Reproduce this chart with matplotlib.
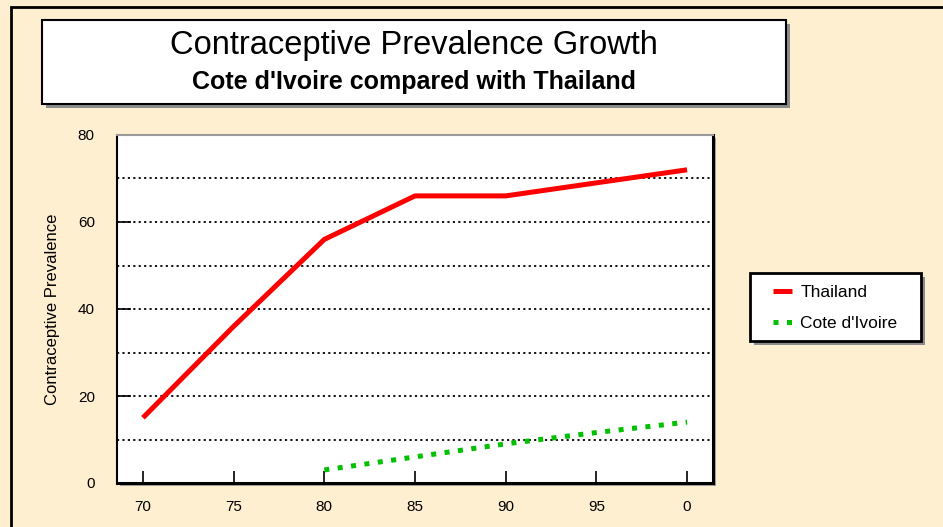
import matplotlib.pyplot as plt
from matplotlib.patches import Rectangle

years = [70, 75, 80, 85, 90, 95, 100]
thailand = [15, 36, 56, 66, 66, 69, 72]

ci_years = [80, 85, 90, 95, 100]
cote_divoire = [3, 6, 9, 11.6, 14]

xtick_pos = [70, 75, 80, 85, 90, 95, 100]
xtick_labels = ["70", "75", "80", "85", "90", "95", "0"]

W, H = 943, 527
bg = "#FFEFD1"

plt.rcParams["font.family"] = ["Liberation Sans", "DejaVu Sans"]

fig = plt.figure(figsize=(W / 100, H / 100), dpi=100)
fig.patch.set_facecolor(bg)


def box(x0, y0, x1, y1, lw=1.5, shadow=4):
    # pixel coords from top-left -> figure fraction
    fig.patches.append(Rectangle(((x0 + shadow) / W, 1 - (y1 + shadow) / H),
                                 (x1 - x0) / W, (y1 - y0) / H,
                                 transform=fig.transFigure, facecolor="#8c8c8c",
                                 edgecolor="none", zorder=1))
    fig.patches.append(Rectangle((x0 / W, 1 - y1 / H), (x1 - x0) / W, (y1 - y0) / H,
                                 transform=fig.transFigure, facecolor="white",
                                 edgecolor="black", linewidth=lw, zorder=1.5))


# outer frame
fig.patches.append(Rectangle((11 / W, -0.1), 1.2, 1 + 0.1 - 7 / H,
                             transform=fig.transFigure, facecolor="none",
                             edgecolor="black", linewidth=2))

# title box
box(42, 20, 786, 104)
fig.text(414 / W, 1 - 45 / H, "Contraceptive Prevalence Growth", ha="center", va="center",
         fontsize=23.5, zorder=3)
fig.text(414 / W, 1 - 82 / H, "Cote d'Ivoire compared with Thailand", ha="center", va="center",
         fontsize=18, fontweight="bold", zorder=3)

# plot area shadow
fig.patches.append(Rectangle((120 / W, 1 - 486 / H), 596 / W, 348 / H,
                             transform=fig.transFigure, facecolor="#a0a0a0",
                             edgecolor="none", zorder=0))

ax = fig.add_axes([117 / W, 1 - 483 / H, 596 / W, 348 / H])
ax.set_facecolor("white")
ax.set_zorder(2)

l1, = ax.plot(years, thailand, color="#FF0000", linewidth=3.6, solid_capstyle="butt",
              label="Thailand", zorder=3)
l2, = ax.plot(ci_years, cote_divoire, color="#00C000", linewidth=3.6, dashes=(1, 1.7),
              label="Cote d'Ivoire", zorder=3)

ax.set_xlim(68.57, 101.43)
ax.set_ylim(0, 80)
ax.set_xticks(xtick_pos)
ax.set_xticklabels(xtick_labels)
ax.set_yticks([0, 20, 40, 60, 80])
ax.tick_params(axis="x", direction="in", length=9, width=1.2, pad=12, labelsize=11)
ax.tick_params(axis="y", direction="in", length=10, width=1.2, pad=16, labelsize=11)
for y in [10, 20, 30, 40, 50, 60, 70]:
    ax.axhline(y, color="black", linestyle=(0, (1.2, 1.8)), linewidth=1.3, zorder=1)

ax.spines["top"].set_color("#999999")
ax.spines["top"].set_linewidth(1.5)
ax.spines["left"].set_linewidth(1.5)
ax.spines["right"].set_linewidth(2.2)
ax.spines["bottom"].set_linewidth(2.2)

ax.set_ylabel("Contraceptive Prevalence", fontsize=12, labelpad=13)

# legend
box(750, 273, 921, 341, lw=2, shadow=4)
leg = fig.legend(handles=[l1, l2], loc="center left", bbox_to_anchor=(757 / W, 1 - 308 / H),
                 frameon=False, fontsize=12.5, handlelength=1.1, handletextpad=0.5,
                 labelspacing=0.95)
leg.set_zorder(5)

fig.savefig("out.png", dpi=100, facecolor=bg)
